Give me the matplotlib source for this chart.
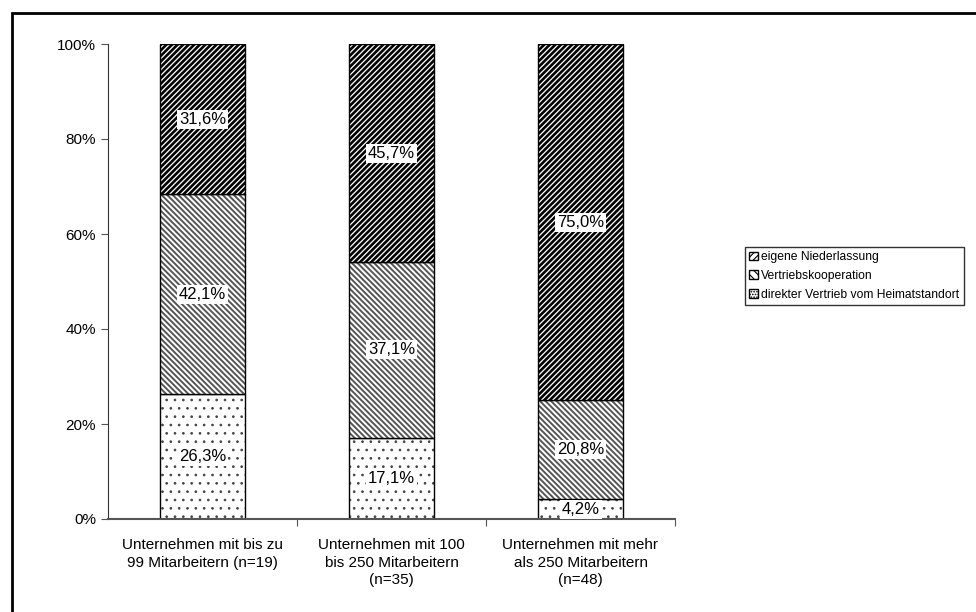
import matplotlib.pyplot as plt
import numpy as np
from matplotlib.patches import Rectangle, Patch

plt.rcParams['font.family'] = ['Liberation Sans', 'DejaVu Sans']

# Daten
kategorien = ['Unternehmen mit bis zu\n99 Mitarbeitern (n=19)',
              'Unternehmen mit 100\nbis 250 Mitarbeitern\n(n=35)',
              'Unternehmen mit mehr\nals 250 Mitarbeitern\n(n=48)']
direkt = [26.3, 17.1, 4.2]
kooperation = [42.1, 37.1, 20.8]
niederlassung = [31.6, 45.7, 75.0]
serien = ['direkter Vertrieb vom Heimatstandort', 'Vertriebskooperation', 'eigene Niederlassung']

fig = plt.figure(figsize=(9.76, 6.12), dpi=100)
ax = fig.add_axes([108 / 976, 1 - 519 / 612, (675 - 108) / 976, (519 - 44) / 612])

x = np.arange(len(kategorien))
breite = 0.455

stile = [('..', '#444444', 0.7), ('\\\\\\\\\\\\', '#555555', 1.4), ('//////', '#000000', 1.9)]
boden = np.zeros(3)
for werte, (hatch, farbe, lw) in zip([direkt, kooperation, niederlassung], stile):
    plt.rcParams['hatch.linewidth'] = lw
    ax.bar(x, werte, breite, bottom=boden, color='white', edgecolor=farbe, hatch=hatch, linewidth=0)
    ax.bar(x, werte, breite, bottom=boden, fill=False, edgecolor='black', linewidth=1)
    for xi, b, v in zip(x, boden, werte):
        ax.text(xi, b + v / 2, f'{v:.1f}%'.replace('.', ','), ha='center', va='center', fontsize=12,
                bbox=dict(facecolor='white', edgecolor='none', pad=1.5))
    boden += np.array(werte)

ax.set_xlim(-0.5, 2.5)
ax.set_ylim(0, 100)
ax.set_yticks(range(0, 101, 20))
ax.set_yticklabels([f'{v}%' for v in range(0, 101, 20)], fontsize=11)
ax.set_xticks([0.5, 1.5, 2.5])
ax.set_xticklabels([])
ax.set_xticks(x, minor=True)
ax.set_xticklabels(kategorien, minor=True, fontsize=11, linespacing=1.3)
ax.tick_params(axis='x', which='minor', length=0, pad=14)
ax.tick_params(axis='x', which='major', length=5, direction='out', color='#555555')
ax.tick_params(axis='y', length=5, direction='out', color='#555555')
for s in ['top', 'right']:
    ax.spines[s].set_visible(False)
ax.spines['left'].set_color('#333333')
ax.spines['bottom'].set_color('#555555')
ax.spines['bottom'].set_linewidth(1.5)

# Legende
plt.rcParams['hatch.linewidth'] = 0.8
handles = [Patch(facecolor='white', edgecolor='black', hatch=h) for h in ['/////', '\\\\\\\\', '......']]
leg = fig.legend(handles, [serien[2], serien[1], serien[0]], loc='upper left',
                 bbox_to_anchor=(745 / 976, 1 - 247 / 612), fontsize=8.7, frameon=True,
                 fancybox=False, edgecolor='black', handlelength=0.7, handleheight=0.7,
                 handletextpad=0.3, borderpad=0.35, labelspacing=0.55, borderaxespad=0)
leg.get_frame().set_linewidth(1)

# Rahmen
fig.patches.append(Rectangle((12 / 976, -0.1), 1.2, 1 - 13 / 612 + 0.1, transform=fig.transFigure,
                             fill=False, edgecolor='black', linewidth=2))

fig.savefig('out.png', dpi=100)
